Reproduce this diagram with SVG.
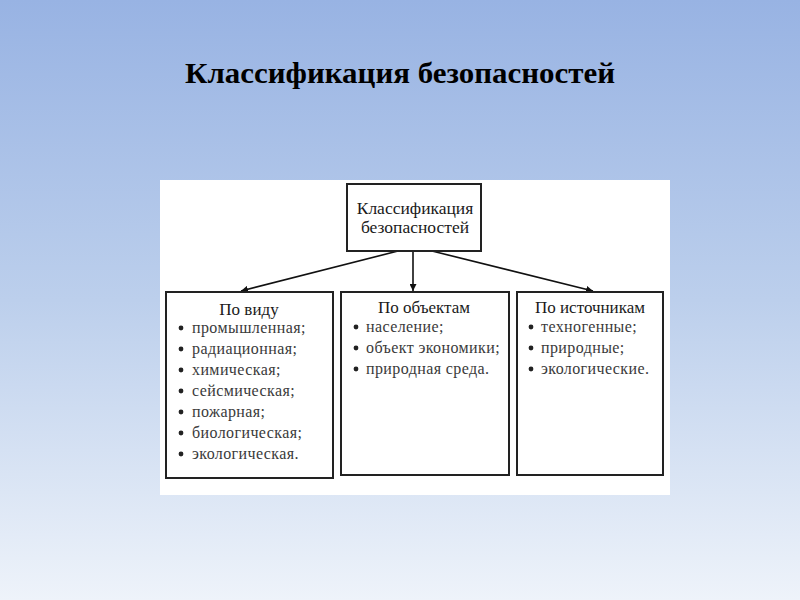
<svg xmlns="http://www.w3.org/2000/svg" width="800" height="600" viewBox="0 0 800 600">
<defs>
<linearGradient id="bg" x1="0" y1="0" x2="0" y2="1">
<stop offset="0" stop-color="#98b3e3"/>
<stop offset="0.5" stop-color="#bccfec"/>
<stop offset="1" stop-color="#eef3fa"/>
</linearGradient>
<marker id="ah" viewBox="0 0 10 10" refX="10" refY="5" markerWidth="7" markerHeight="7" orient="auto" markerUnits="userSpaceOnUse">
<path d="M0,0 L10,5 L0,10 z" fill="#111"/>
</marker>
<style>
.box{fill:#fff;stroke:#222;stroke-width:2}
.t{font-family:"Liberation Serif","DejaVu Serif",serif;fill:#2a2a2a}
.h{font-size:17px;text-anchor:middle;fill:#1a1a1a}
.r{font-size:17.5px;text-anchor:middle;fill:#1a1a1a}
.i{font-size:16px;letter-spacing:0.4px;fill:#3a3a3a}
.b{fill:#222}
.c{stroke:#111;stroke-width:1.6;fill:none;marker-end:url(#ah)}
</style>
</defs>
<rect width="800" height="600" fill="url(#bg)"/>
<text x="400" y="83" class="t" textLength="430" lengthAdjust="spacingAndGlyphs" style="font-size:30px;font-weight:bold;fill:#000;text-anchor:middle">Классификация безопасностей</text>
<rect x="160" y="180" width="510" height="315" fill="#fff"/>
<g id="connectors">
<line class="c" x1="398" y1="251" x2="241" y2="291"/>
<line class="c" x1="413" y1="251" x2="413" y2="291"/>
<line class="c" x1="432" y1="251" x2="593" y2="291"/>
</g>
<g id="root">
<rect class="box" x="347" y="184" width="134" height="67"/>
<text class="t r" x="415" y="214">Классификация</text>
<text class="t r" x="415" y="233">безопасностей</text>
</g>
<g id="po-vidu">
<rect class="box" x="166" y="292" width="167" height="186"/>
<text class="t h" x="249" y="315">По виду</text>
<g class="b"><circle cx="181" cy="328" r="2.4"/><circle cx="181" cy="349" r="2.4"/><circle cx="181" cy="370" r="2.4"/><circle cx="181" cy="391" r="2.4"/><circle cx="181" cy="412" r="2.4"/><circle cx="181" cy="433" r="2.4"/><circle cx="181" cy="454" r="2.4"/></g>
<text class="t i" x="192" y="333">промышленная;</text>
<text class="t i" x="192" y="354">радиационная;</text>
<text class="t i" x="192" y="375">химическая;</text>
<text class="t i" x="192" y="396">сейсмическая;</text>
<text class="t i" x="192" y="417">пожарная;</text>
<text class="t i" x="192" y="438">биологическая;</text>
<text class="t i" x="192" y="459">экологическая.</text>
</g>
<g id="po-obektam">
<rect class="box" x="341" y="292" width="168" height="183"/>
<text class="t h" x="424" y="313">По объектам</text>
<g class="b"><circle cx="356" cy="327" r="2.4"/><circle cx="356" cy="348" r="2.4"/><circle cx="356" cy="369" r="2.4"/></g>
<text class="t i" x="366" y="332">население;</text>
<text class="t i" x="366" y="353">объект экономики;</text>
<text class="t i" x="366" y="374">природная среда.</text>
</g>
<g id="po-istochnikam">
<rect class="box" x="517" y="292" width="146" height="183"/>
<text class="t h" x="590" y="313">По источникам</text>
<g class="b"><circle cx="531" cy="327" r="2.4"/><circle cx="531" cy="348" r="2.4"/><circle cx="531" cy="369" r="2.4"/></g>
<text class="t i" x="541" y="332">техногенные;</text>
<text class="t i" x="541" y="353">природные;</text>
<text class="t i" x="541" y="374">экологические.</text>
</g>
</svg>
